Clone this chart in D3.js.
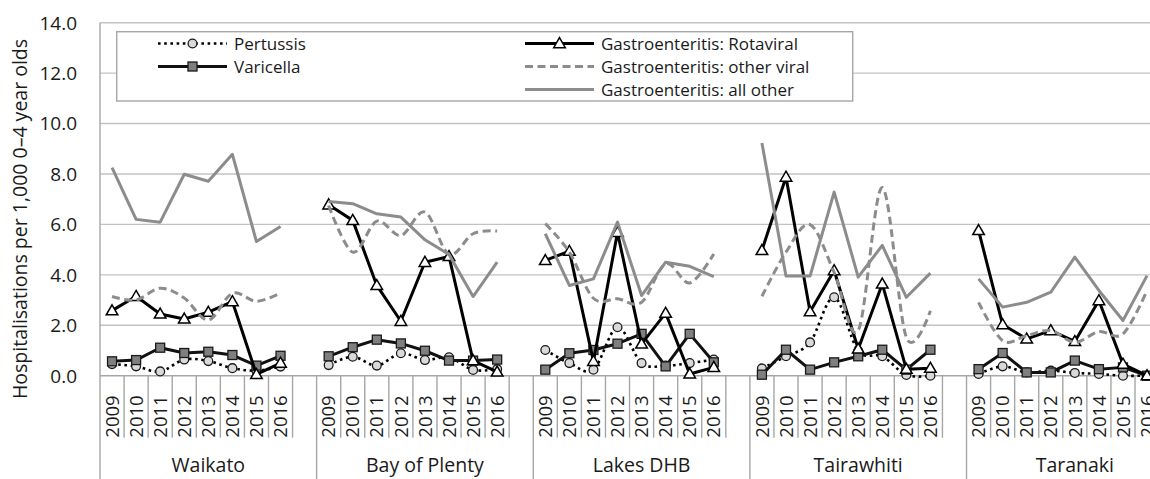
<!DOCTYPE html>
<html><head><meta charset="utf-8">
<script src="https://cdn.jsdelivr.net/npm/d3@7"></script>
<style>
body{margin:0;background:#fff}
svg{display:block}
text{font-family:'Open Sans',sans-serif;fill:#1a1a1a}
</style>
</head><body><svg id="c" width="1150" height="479"></svg>
<script>
const groups = ["Waikato", "Bay of Plenty", "Lakes DHB", "Tairawhiti", "Taranaki"];
const years = ["2009", "2010", "2011", "2012", "2013", "2014", "2015", "2016"];
const yTicks = [0, 2, 4, 6, 8, 10, 12, 14];
const seriesNames = ["Pertussis", "Varicella", "Gastroenteritis: Rotaviral", "Gastroenteritis: other viral", "Gastroenteritis: all other"];
const yTitle = "Hospitalisations per 1,000 0\u20134 year olds";

// values per group (rows) and year (columns)
const pertussis = [
  [0.46, 0.37, 0.17, 0.64, 0.58, 0.30, 0.20, 0.36],
  [0.42, 0.75, 0.40, 0.89, 0.62, 0.73, 0.23, 0.26],
  [1.02, 0.50, 0.24, 1.92, 0.50, 0.40, 0.50, 0.64],
  [0.29, 0.77, 1.32, 3.11, 0.99, 0.77, 0.03, 0.00],
  [0.07, 0.37, 0.13, 0.20, 0.11, 0.07, 0.00, 0.00]
];
const varicella = [
  [0.57, 0.62, 1.11, 0.90, 0.95, 0.82, 0.40, 0.79],
  [0.77, 1.13, 1.43, 1.28, 0.99, 0.60, 0.60, 0.64],
  [0.24, 0.89, 1.02, 1.27, 1.66, 0.37, 1.66, 0.53],
  [0.04, 1.03, 0.24, 0.53, 0.77, 1.03, 0.24, 1.03],
  [0.26, 0.90, 0.13, 0.13, 0.60, 0.26, 0.33, 0.00]
];
const rotaviral = [
  [2.58, 3.15, 2.45, 2.25, 2.52, 2.94, 0.05, 0.50],
  [6.78, 6.16, 3.58, 2.16, 4.50, 4.73, 0.60, 0.15],
  [4.57, 4.94, 0.57, 5.68, 1.26, 2.48, 0.07, 0.33],
  [4.97, 7.88, 2.54, 4.17, 1.06, 3.64, 0.26, 0.30],
  [5.76, 2.03, 1.46, 1.79, 1.36, 2.98, 0.46, 0.00]
];
const otherViral = [
  [3.14, 3.00, 3.47, 3.08, 2.21, 3.27, 2.95, 3.28],
  [6.75, 4.90, 6.13, 5.56, 6.49, 4.81, 5.63, 5.74],
  [6.03, 4.90, 3.07, 3.05, 2.91, 4.44, 3.68, 4.83],
  [3.15, 4.90, 5.99, 4.10, 1.79, 7.46, 1.52, 2.58],
  [2.91, 1.39, 1.59, 1.79, 1.32, 1.75, 1.66, 3.38]
];
const allOther = [
  [8.25, 6.20, 6.09, 7.99, 7.71, 8.78, 5.32, 5.92],
  [6.91, 6.82, 6.42, 6.29, 5.39, 4.81, 3.14, 4.50],
  [5.63, 3.58, 3.84, 6.09, 3.18, 4.50, 4.34, 3.93],
  [9.23, 3.95, 3.95, 7.28, 3.91, 5.17, 3.11, 4.07],
  [3.84, 2.72, 2.91, 3.31, 4.70, 3.38, 2.19, 3.97]
];

const W = 1150, H = 479;
const svg = d3.select("#c");
const left = 100, step = 24.07;
const slots = groups.flatMap(g => years.map(yr => g + "|" + yr).concat([g + "|"]));
const x = d3.scaleBand().domain(slots).range([left, left + slots.length * step]).padding(0);
const y = d3.scaleLinear().domain([0, 14]).range([375.7, 22.7]);
const bw = x.bandwidth();
const y0 = y(0);
const tickBottom = 437.7;

const gridC = "#c3c3c3", axisC = "#a6a6a6", grayLine = "#8c8c8c";

// gridlines
svg.append("g").selectAll("line").data(yTicks.filter(t => t > 0)).join("line")
  .attr("x1", left).attr("x2", W).attr("y1", d => y(d)).attr("y2", d => y(d))
  .attr("stroke", gridC).attr("stroke-width", 1.4);

// y tick labels
svg.append("g").selectAll("text").data(yTicks).join("text")
  .attr("x", 77).attr("y", d => y(d)).attr("dy", "0.36em")
  .attr("text-anchor", "end").style("font-size", "19px")
  .text(d => d3.format(".1f")(d));

// y title
svg.append("text").attr("transform", `translate(20,${(28 + 410) / 2}) rotate(-90)`)
  .attr("text-anchor", "middle").attr("dy", "0.35em").style("font-size", "19.5px")
  .text(yTitle);

// x axis line
svg.append("line").attr("x1", left).attr("x2", W).attr("y1", y0).attr("y2", y0)
  .attr("stroke", axisC).attr("stroke-width", 1.4);

// slot ticks and group separators
const ax = svg.append("g");
groups.forEach((g, gi) => {
  const gx = x(g + "|" + years[0]);
  ax.append("line").attr("x1", gx).attr("x2", gx).attr("y1", gi === 0 ? y(14) : y0).attr("y2", H)
    .attr("stroke", axisC).attr("stroke-width", 1.4);
  years.forEach((yr, i) => {
    const sx = x(g + "|" + yr) + bw;
    ax.append("line").attr("x1", sx).attr("x2", sx).attr("y1", y0).attr("y2", tickBottom)
      .attr("stroke", axisC).attr("stroke-width", 1.4);
    ax.append("text")
      .attr("transform", `translate(${x(g + "|" + yr) + bw / 2},${tickBottom}) rotate(-90)`)
      .attr("dy", "0.36em").attr("text-anchor", "start").style("font-size", "18.5px")
      .text(yr);
  });
  ax.append("text").attr("x", gx + 9 * step / 2).attr("y", 472)
    .attr("text-anchor", "middle").style("font-size", "19.5px").text(g);
});

// series styles
const data = [pertussis, varicella, rotaviral, otherViral, allOther];
const styles = [
  {stroke: "#000", width: 2.6, dash: "2.6,3.6", curve: d3.curveCatmullRom.alpha(0), marker: "circle"},
  {stroke: "#111", width: 3, dash: null, curve: d3.curveLinear, marker: "square"},
  {stroke: "#000", width: 3, dash: null, curve: d3.curveLinear, marker: "triangle"},
  {stroke: grayLine, width: 3, dash: "8,4.5", curve: d3.curveCatmullRom.alpha(0), marker: null},
  {stroke: grayLine, width: 3, dash: null, curve: d3.curveLinear, marker: null}
];

function drawMarker(sel, type, cx, cy) {
  if (type === "circle") {
    sel.append("circle").attr("cx", cx).attr("cy", cy).attr("r", 4.4)
      .attr("fill", "#d9d9d9").attr("stroke", "#1a1a1a").attr("stroke-width", 1.3);
  } else if (type === "square") {
    sel.append("rect").attr("x", cx - 4.5).attr("y", cy - 4.5).attr("width", 9).attr("height", 9)
      .attr("fill", "#7f7f7f").attr("stroke", "#1a1a1a").attr("stroke-width", 1.3);
  } else if (type === "triangle") {
    sel.append("path").attr("transform", `translate(${cx},${cy + 0.8})`)
      .attr("d", d3.symbol(d3.symbolTriangle, 58)())
      .attr("fill", "#fff").attr("stroke", "#000").attr("stroke-width", 1.5);
  }
}

const plot = svg.append("g");
data.forEach((arr, si) => {
  const st = styles[si];
  const g = plot.append("g");
  arr.forEach((vals, gi) => {
    const pts = vals.map((v, i) => [x(groups[gi] + "|" + years[i]) + bw / 2, y(v)]);
    g.append("path").attr("d", d3.line().curve(st.curve)(pts))
      .attr("fill", "none").attr("stroke", st.stroke).attr("stroke-width", st.width)
      .attr("stroke-dasharray", st.dash).attr("stroke-linejoin", "round");
    if (st.marker) pts.forEach(p => drawMarker(g, st.marker, p[0], p[1]));
  });
});

// legend
const lg = svg.append("g");
lg.append("rect").attr("x", 116.7).attr("y", 31.7).attr("width", 736).attr("height", 69.3)
  .attr("fill", "#fff").attr("stroke", axisC).attr("stroke-width", 1.4);
const legendPos = [[0, 0], [0, 1], [1, 0], [1, 1], [1, 2]];
const colX = [158, 525], rowY = [43.5, 66.5, 89.5], lineLen = 69;
seriesNames.forEach((name, i) => {
  const st = styles[i];
  const lx = colX[legendPos[i][0]], ly = rowY[legendPos[i][1]];
  lg.append("line").attr("x1", lx).attr("x2", lx + lineLen).attr("y1", ly).attr("y2", ly)
    .attr("stroke", st.stroke).attr("stroke-width", st.width).attr("stroke-dasharray", st.dash);
  if (st.marker) drawMarker(lg, st.marker, lx + lineLen / 2, ly);
  lg.append("text").attr("x", lx + lineLen + 7).attr("y", ly).attr("dy", "0.36em")
    .style("font-size", "17px").text(name);
});
</script>
</body></html>
